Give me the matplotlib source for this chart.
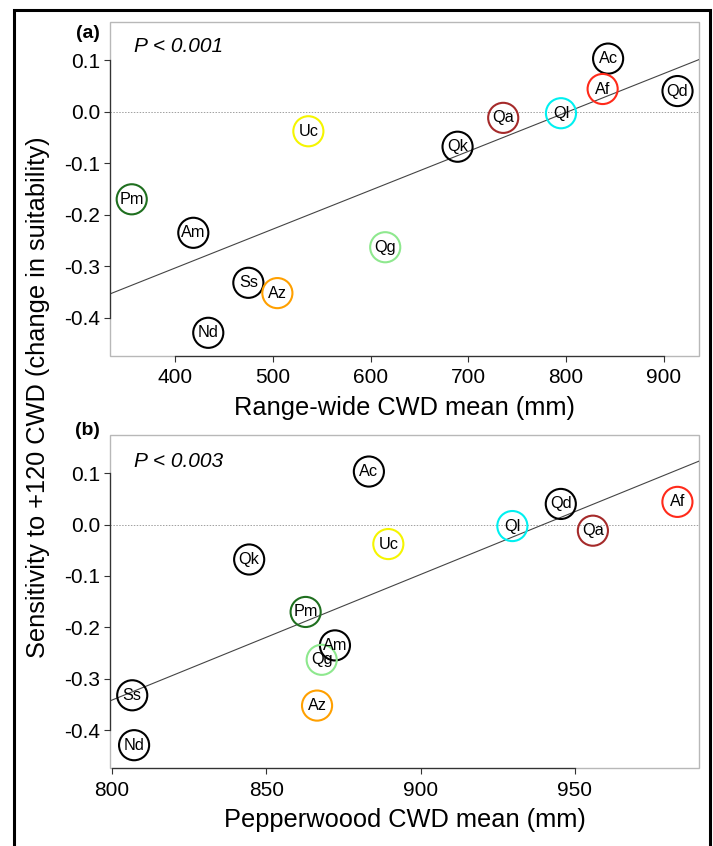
import numpy as np
import matplotlib
matplotlib.use('Agg')
import matplotlib.pyplot as plt
from matplotlib.patches import Rectangle

plt.rcParams['font.family'] = ['Liberation Sans', 'DejaVu Sans']

# Species codes and their colours
species = ['Pm', 'Am', 'Uc', 'Ss', 'Az', 'Nd', 'Qg', 'Qk', 'Qa', 'Ql', 'Ac', 'Af', 'Qd']
colors = ['#1f6f1f', 'black', '#f5f500', 'black', '#ffa000', 'black', '#8ee88e',
          'black', '#a52a2a', '#00f0f0', 'black', '#ff2a1a', 'black']

# Sensitivity to +120 CWD (change in suitability)
sensitivity = [-0.170, -0.235, -0.038, -0.332, -0.352, -0.429, -0.263,
               -0.068, -0.012, -0.003, 0.103, 0.044, 0.040]

# Range-wide CWD mean (mm)
range_cwd = [355.7, 418.7, 536.4, 475.0, 504.7, 434.0, 615.0,
             689.0, 735.7, 794.8, 843.0, 837.4, 914.0]

# Pepperwood CWD mean (mm)
pw_cwd = [862.7, 872.2, 889.5, 806.5, 866.4, 807.1, 867.9,
          844.4, 955.8, 929.7, 883.2, 983.2, 945.4]

panels = [
    dict(x=range_cwd, tag='(a)', tag_y=0.967, ptxt='P < 0.001', p_y=0.928,
         xlabel='Range-wide CWD mean (mm)',
         xlim=(333.5, 936), xticks=[400, 500, 600, 700, 800, 900],
         pos=[0.1543, 0.5792, 0.8261, 0.3948]),
    dict(x=pw_cwd, tag='(b)', tag_y=1.015, ptxt='P < 0.003', p_y=0.92,
         xlabel='Pepperwoood CWD mean (mm)',
         xlim=(799.3, 990.2), xticks=[800, 850, 900, 950],
         pos=[0.1543, 0.0918, 0.8261, 0.3940]),
]

fig = plt.figure(figsize=(7.13, 8.46), dpi=100)

yticks = [0.1, 0.0, -0.1, -0.2, -0.3, -0.4]
ylim = (-0.474, 0.174)

for p in panels:
    ax = fig.add_axes(p['pos'])
    x = np.array(p['x'])
    y = np.array(sensitivity)

    # zero reference
    ax.axhline(0, color='#a0a0a0', linestyle=(0, (1.5, 1.5)), linewidth=0.7, zorder=1)

    # regression line
    slope, icpt = np.polyfit(x, y, 1)
    xs = np.array(p['xlim'])
    ax.plot(xs, icpt + slope * xs, color='#444444', linewidth=0.8, zorder=2)

    ax.scatter(x, y, s=470, facecolors='none', edgecolors=colors, linewidths=1.5, zorder=3)
    for xi, yi, lab in zip(x, y, species):
        ax.text(xi, yi, lab, ha='center', va='center', fontsize=11.7, zorder=4)

    ax.set_xlim(*p['xlim'])
    ax.set_ylim(*ylim)
    ax.set_xticks(p['xticks'])
    ax.set_yticks(yticks)
    ax.set_yticklabels([f'{v:.1f}' for v in yticks])
    ax.tick_params(labelsize=15, length=4, width=0.8, color='#333333')
    ax.tick_params(axis='y', pad=3)
    ax.tick_params(axis='x', pad=5)

    # light frame + R-style axis lines over tick range
    for s in ['top', 'right']:
        ax.spines[s].set_visible(False)
    ax.add_patch(Rectangle((0, 0), 1, 1, transform=ax.transAxes, fill=False,
                           edgecolor='#b8b8b8', linewidth=1.0, zorder=0, clip_on=False))
    ax.spines['left'].set_bounds(-0.4, 0.1)
    ax.spines['bottom'].set_bounds(p['xticks'][0], p['xticks'][-1])
    for s in ['left', 'bottom']:
        ax.spines[s].set_color('#333333')
        ax.spines[s].set_linewidth(0.9)

    ax.set_xlabel(p['xlabel'], fontsize=18.3, labelpad=6)
    ax.text(-0.017, p['tag_y'], p['tag'], transform=ax.transAxes, ha='right', va='center',
            fontsize=14, fontweight='bold')
    ax.text(0.04, p['p_y'], p['ptxt'], transform=ax.transAxes, ha='left', va='center',
            fontsize=15, fontstyle='italic')

fig.text(0.053, 0.531, 'Sensitivity to +120 CWD (change in suitability)', rotation=90,
         ha='center', va='center', fontsize=18.3)

# outer black border
fig.patches.append(Rectangle((0.0196, -0.02), 0.9762, 1.008, transform=fig.transFigure,
                             fill=False, edgecolor='black', linewidth=2.2))

fig.savefig('out.png', dpi=100)
